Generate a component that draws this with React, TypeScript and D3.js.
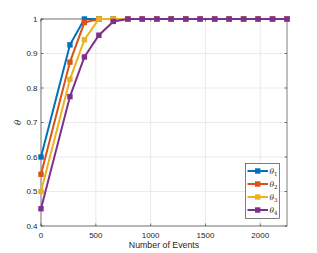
import * as d3 from "d3";
import { useEffect, useRef } from "react";

const events = [0, 264, 396, 528, 660, 792, 924, 1056, 1188, 1320, 1452, 1584, 1716, 1848, 1980, 2112, 2244];
const theta1 = [0.6, 0.925, 1, 1, 1, 1, 1, 1, 1, 1, 1, 1, 1, 1, 1, 1, 1];
const theta2 = [0.55, 0.875, 0.99, 1, 1, 1, 1, 1, 1, 1, 1, 1, 1, 1, 1, 1, 1];
const theta3 = [0.5, 0.825, 0.94, 1, 1, 1, 1, 1, 1, 1, 1, 1, 1, 1, 1, 1, 1];
const theta4 = [0.45, 0.775, 0.89, 0.953, 0.993, 1, 1, 1, 1, 1, 1, 1, 1, 1, 1, 1, 1];
const seriesNames = ["1", "2", "3", "4"];
const colors = ["#0072BD", "#D95319", "#EDB120", "#7E2F8E"];
const xTicks = [0, 500, 1000, 1500, 2000];
const yTicks = [0.4, 0.5, 0.6, 0.7, 0.8, 0.9, 1];

export default function App() {
  const svgRef = useRef<SVGSVGElement | null>(null);

  useEffect(() => {
    if (!svgRef.current) return;
    const width = 317;
    const height = 253;
    const m = { left: 41, right: 30, top: 19, bottom: 27 };
    const svg = d3.select(svgRef.current);
    svg.selectAll("*").remove();

    const x = d3.scaleLinear().domain([0, 2244]).range([m.left, width - m.right]);
    const y = d3.scaleLinear().domain([0.4, 1]).range([height - m.bottom, m.top]);
    const font = "Liberation Sans, Arial, sans-serif";
    const axisColor = "#262626";

    svg.append("rect").attr("width", width).attr("height", height).attr("fill", "#fff");

    // grid
    const grid = svg.append("g").attr("stroke", "#e6e6e6").attr("stroke-width", 0.8);
    xTicks.forEach((t) => {
      grid.append("line").attr("x1", x(t)).attr("x2", x(t)).attr("y1", y(0.4)).attr("y2", y(1));
    });
    yTicks.forEach((t) => {
      grid.append("line").attr("x1", x(0)).attr("x2", x(2244)).attr("y1", y(t)).attr("y2", y(t));
    });

    // axes box
    svg.append("rect")
      .attr("x", x(0)).attr("y", y(1))
      .attr("width", x(2244) - x(0)).attr("height", y(0.4) - y(1))
      .attr("fill", "none").attr("stroke", axisColor).attr("stroke-width", 0.6);

    const ticks = svg.append("g").attr("stroke", axisColor).attr("stroke-width", 0.6);
    xTicks.forEach((t) => {
      ticks.append("line").attr("x1", x(t)).attr("x2", x(t)).attr("y1", y(0.4)).attr("y2", y(0.4) - 2.5);
      ticks.append("line").attr("x1", x(t)).attr("x2", x(t)).attr("y1", y(1)).attr("y2", y(1) + 2.5);
    });
    yTicks.forEach((t) => {
      ticks.append("line").attr("x1", x(0)).attr("x2", x(0) + 2.5).attr("y1", y(t)).attr("y2", y(t));
      ticks.append("line").attr("x1", x(2244)).attr("x2", x(2244) - 2.5).attr("y1", y(t)).attr("y2", y(t));
    });

    svg.append("g").selectAll("text").data(xTicks).join("text")
      .attr("x", (d) => x(d)).attr("y", y(0.4) + 11.5)
      .attr("text-anchor", "middle").attr("font-family", font).attr("font-size", 8)
      .attr("fill", axisColor).text((d) => String(d));

    svg.append("g").selectAll("text").data(yTicks).join("text")
      .attr("x", x(0) - 3.5).attr("y", (d) => y(d) + 2.9)
      .attr("text-anchor", "end").attr("font-family", font).attr("font-size", 8)
      .attr("fill", axisColor).text((d) => String(d));

    svg.append("text")
      .attr("x", (x(0) + x(2244)) / 2).attr("y", 248)
      .attr("text-anchor", "middle").attr("font-family", font).attr("font-size", 8.8)
      .attr("fill", axisColor).text("Number of Events");

    svg.append("text")
      .attr("transform", `translate(21,${(y(0.4) + y(1)) / 2}) rotate(-90)`)
      .attr("text-anchor", "middle").attr("font-family", "DejaVu Serif, serif")
      .attr("font-style", "italic").attr("font-size", 8.5)
      .attr("fill", axisColor).text("θ");

    const allSeries = [theta1, theta2, theta3, theta4];
    const line = d3.line<number>().x((_, i) => x(events[i])).y((d) => y(d));

    allSeries.forEach((vals, k) => {
      const g = svg.append("g");
      g.append("path").datum(vals).attr("d", line)
        .attr("fill", "none").attr("stroke", colors[k]).attr("stroke-width", 2);
      g.selectAll("rect").data(vals).join("rect")
        .attr("x", (_, i) => x(events[i]) - 2.7).attr("y", (d) => y(d) - 2.7)
        .attr("width", 5.4).attr("height", 5.4).attr("fill", colors[k]);
    });

    // legend
    const lg = svg.append("g");
    lg.append("rect").attr("x", 245.5).attr("y", 163.5).attr("width", 34).attr("height", 55)
      .attr("fill", "#fff").attr("stroke", axisColor).attr("stroke-width", 0.6);
    seriesNames.forEach((n, k) => {
      const ly = 171 + k * 13;
      lg.append("line").attr("x1", 247.5).attr("x2", 268).attr("y1", ly).attr("y2", ly)
        .attr("stroke", colors[k]).attr("stroke-width", 2);
      lg.append("rect").attr("x", 255).attr("y", ly - 2.7).attr("width", 5.4).attr("height", 5.4)
        .attr("fill", colors[k]);
      const t = lg.append("text").attr("x", 269.5).attr("y", ly + 2.5)
        .attr("font-family", "DejaVu Serif, serif").attr("font-size", 7.5).attr("fill", axisColor);
      t.append("tspan").attr("font-style", "italic").text("θ");
      t.append("tspan").attr("font-size", 5.5).attr("dy", 2).text(n);
    });
  }, []);

  return (
    <svg
      ref={svgRef}
      width={317}
      height={253}
      viewBox="0 0 317 253"
      style={{ position: "absolute", left: 0, top: 0 }}
    />
  );
}
